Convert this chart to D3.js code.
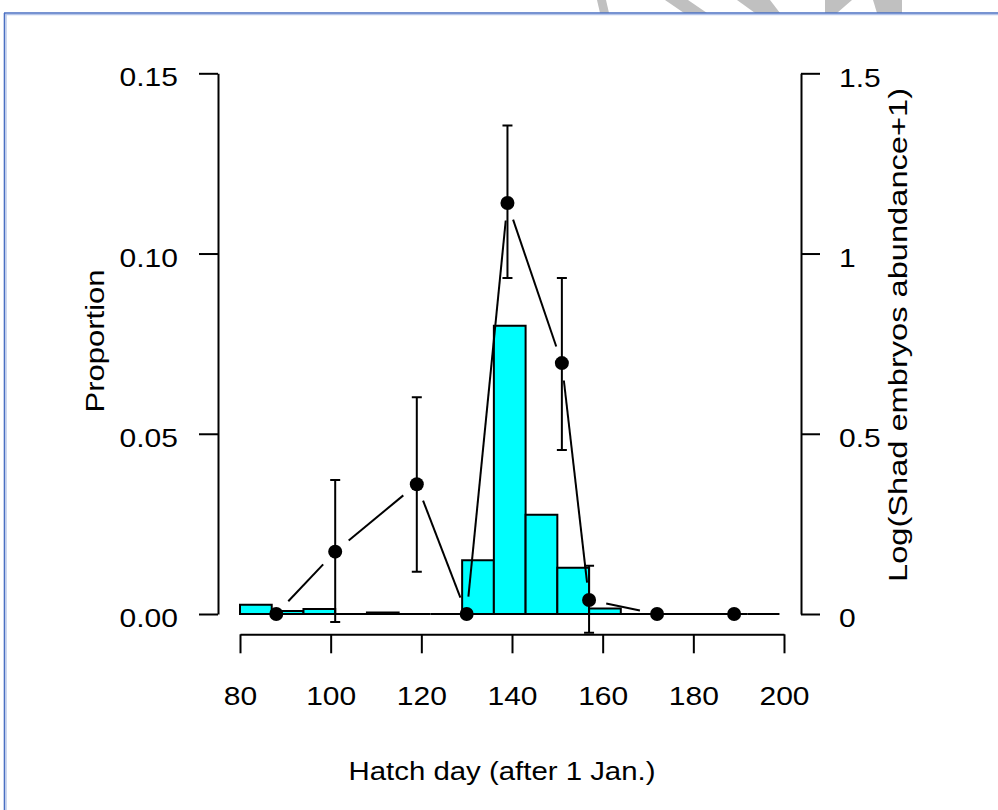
<!DOCTYPE html>
<html><head><meta charset="utf-8">
<script src="https://cdn.jsdelivr.net/npm/d3@7"></script>
<style>
body{margin:0;background:#fff}
svg{display:block}
text{font-family:"Liberation Sans",Arial,Helvetica,sans-serif;fill:#000}
</style>
</head><body>
<svg id="c" width="998" height="810"></svg>
<script>
// ---- data ----
const binStarts = [80,87,94,101,108,115,122,129,136,143,150,157,164,171,178,185,192];
const binWidth = 7;
const proportions = [0.0026,0.0008,0.0014,0,0.0004,0,0,0.0149,0.080,0.0275,0.0128,0.0015,0,0,0,0,0];
const sampleDays = [88,101,119,130,139,151,157,172,189];
const logAbundance = [0,0.173,0.36,0,1.14,0.696,0.039,0,0];
const errUpper = [null,0.372,0.601,null,1.355,0.932,0.134,null,null];
const errLower = [null,-0.022,0.117,null,0.932,0.455,-0.052,null,null];
const xTicks = [80,100,120,140,160,180,200];
const leftTicks = [0,0.05,0.10,0.15];
const rightTicks = [0,0.5,1,1.5];
const rightTickLabels = ["0","0.5","1","1.5"];
const xTitle = "Hatch day (after 1 Jan.)";
const yLeftTitle = "Proportion";
const yRightTitle = "Log(Shad embryos abundance+1)";

// ---- setup ----
const svg = d3.select("#c");
const x = d3.scaleLinear([80,200],[240,784]);
const yL = d3.scaleLinear([0,0.15],[614,73.3]);
const yR = d3.scaleLinear([0,1.5],[614,73.3]);
const SX = 1.2;
const FS = 25;

// watermark fragments above frame
const wm = [
  [[597,0],[606,0],[609,13],[600,13]],
  [[665,0],[688,0],[707,13],[684,13]],
  [[737,0],[770,0],[780,13],[755,13]],
  [[825,0],[852,0],[837,13],[825,13]],
  [[873,0],[902,0],[902,13],[877,13]]
];
svg.append("g").selectAll("path").data(wm).join("path")
  .attr("d", d => "M" + d.map(p => p.join(",")).join("L") + "Z")
  .attr("fill","#c0c0c0");

// frame
svg.append("line").attr("x1",4).attr("x2",998).attr("y1",13).attr("y2",13)
  .attr("stroke","#4a6fc2").attr("stroke-width",1.6);
svg.append("line").attr("x1",5.5).attr("x2",998).attr("y1",14.6).attr("y2",14.6)
  .attr("stroke","#b6c6ea").attr("stroke-width",1.2);
svg.append("line").attr("x1",4.5).attr("x2",4.5).attr("y1",13).attr("y2",810)
  .attr("stroke","#4a6fc2").attr("stroke-width",1.6);
svg.append("line").attr("x1",6.1).attr("x2",6.1).attr("y1",14.6).attr("y2",810)
  .attr("stroke","#b6c6ea").attr("stroke-width",1.2);

// ---- histogram ----
svg.append("g").selectAll("path").data(binStarts).join("path")
  .attr("d", (s,i) => {
    const x0 = x(s), x1 = x(s+binWidth), y0 = yL(0), y1 = yL(proportions[i]);
    return `M${x0},${y0}V${y1}H${x1}V${y0}Z`;
  })
  .attr("fill","#00ffff").attr("stroke","#000").attr("stroke-width",2)
  .attr("stroke-linejoin","miter");

// ---- error bars ----
const eb = svg.append("g").attr("stroke","#000").attr("stroke-width",2).attr("fill","none");
sampleDays.forEach((d,i) => {
  if (errUpper[i] == null) return;
  const cx = x(d), yu = yR(errUpper[i]), yl = yR(errLower[i]);
  eb.append("path").attr("d",
    `M${cx},${yu}V${yl}M${cx-5},${yu}H${cx+5}M${cx-5},${yl}H${cx+5}`);
});

// ---- line with gaps (type "b") ----
const GAP = 17.5;
const pts = sampleDays.map((d,i) => [x(d), yR(logAbundance[i])]);
const lg = svg.append("g").attr("stroke","#000").attr("stroke-width",2).attr("fill","none");
for (let i = 0; i < pts.length-1; i++) {
  const [xa,ya] = pts[i], [xb,yb] = pts[i+1];
  const dx = xb-xa, dy = yb-ya, L = Math.hypot(dx,dy);
  if (L <= 2*GAP) continue;
  const ux = dx/L, uy = dy/L;
  lg.append("line")
    .attr("x1", xa+ux*GAP).attr("y1", ya+uy*GAP)
    .attr("x2", xb-ux*GAP).attr("y2", yb-uy*GAP);
}

// points
svg.append("g").selectAll("circle").data(pts).join("circle")
  .attr("cx", d => d[0]).attr("cy", d => d[1]).attr("r",7).attr("fill","#000");

// ---- axes ----
function styleAxis(g, dyText) {
  g.select(".domain").attr("stroke","#000").attr("stroke-width",2);
  g.selectAll(".tick line").attr("stroke","#000").attr("stroke-width",2);
  g.selectAll(".tick text").each(function(){
    const t = d3.select(this);
    const tx = +t.attr("x") || 0, ty = +t.attr("y") || 0;
    t.attr("x",0).attr("y",0).attr("dy",null)
     .attr("font-size",FS).attr("font-family",null)
     .attr("transform",`translate(${tx},${ty+dyText}) scale(${SX},1)`);
  });
  g.attr("font-family",null).attr("font-size",null);
}

const gL = svg.append("g").attr("transform","translate(218,0)")
  .call(d3.axisLeft(yL).tickValues(leftTicks).tickFormat(d3.format(".2f"))
    .tickSize(19).tickSizeOuter(0).tickPadding(21));
styleAxis(gL, 12.5);

const gR = svg.append("g").attr("transform","translate(801,0)")
  .call(d3.axisRight(yR).tickValues(rightTicks).tickFormat((d,i) => rightTickLabels[i])
    .tickSize(19).tickSizeOuter(0).tickPadding(19));
styleAxis(gR, 12.8);

const gB = svg.append("g").attr("transform","translate(0,634.3)")
  .call(d3.axisBottom(x).tickValues(xTicks).tickFormat(d3.format("d"))
    .tickSize(19).tickSizeOuter(0).tickPadding(0));
styleAxis(gB, 52);

// ---- titles ----
svg.append("text").text(xTitle)
  .attr("x",502).attr("y",780).attr("text-anchor","middle").attr("font-size",25)
  .attr("textLength",307).attr("lengthAdjust","spacingAndGlyphs");

svg.append("text").text(yLeftTitle)
  .attr("transform","translate(104,341) rotate(-90)")
  .attr("text-anchor","middle").attr("font-size",25)
  .attr("textLength",143).attr("lengthAdjust","spacingAndGlyphs");

svg.append("text").text(yRightTitle)
  .attr("transform","translate(907,335) rotate(-90)")
  .attr("text-anchor","middle").attr("font-size",26)
  .attr("textLength",494).attr("lengthAdjust","spacingAndGlyphs");
</script>
</body></html>
